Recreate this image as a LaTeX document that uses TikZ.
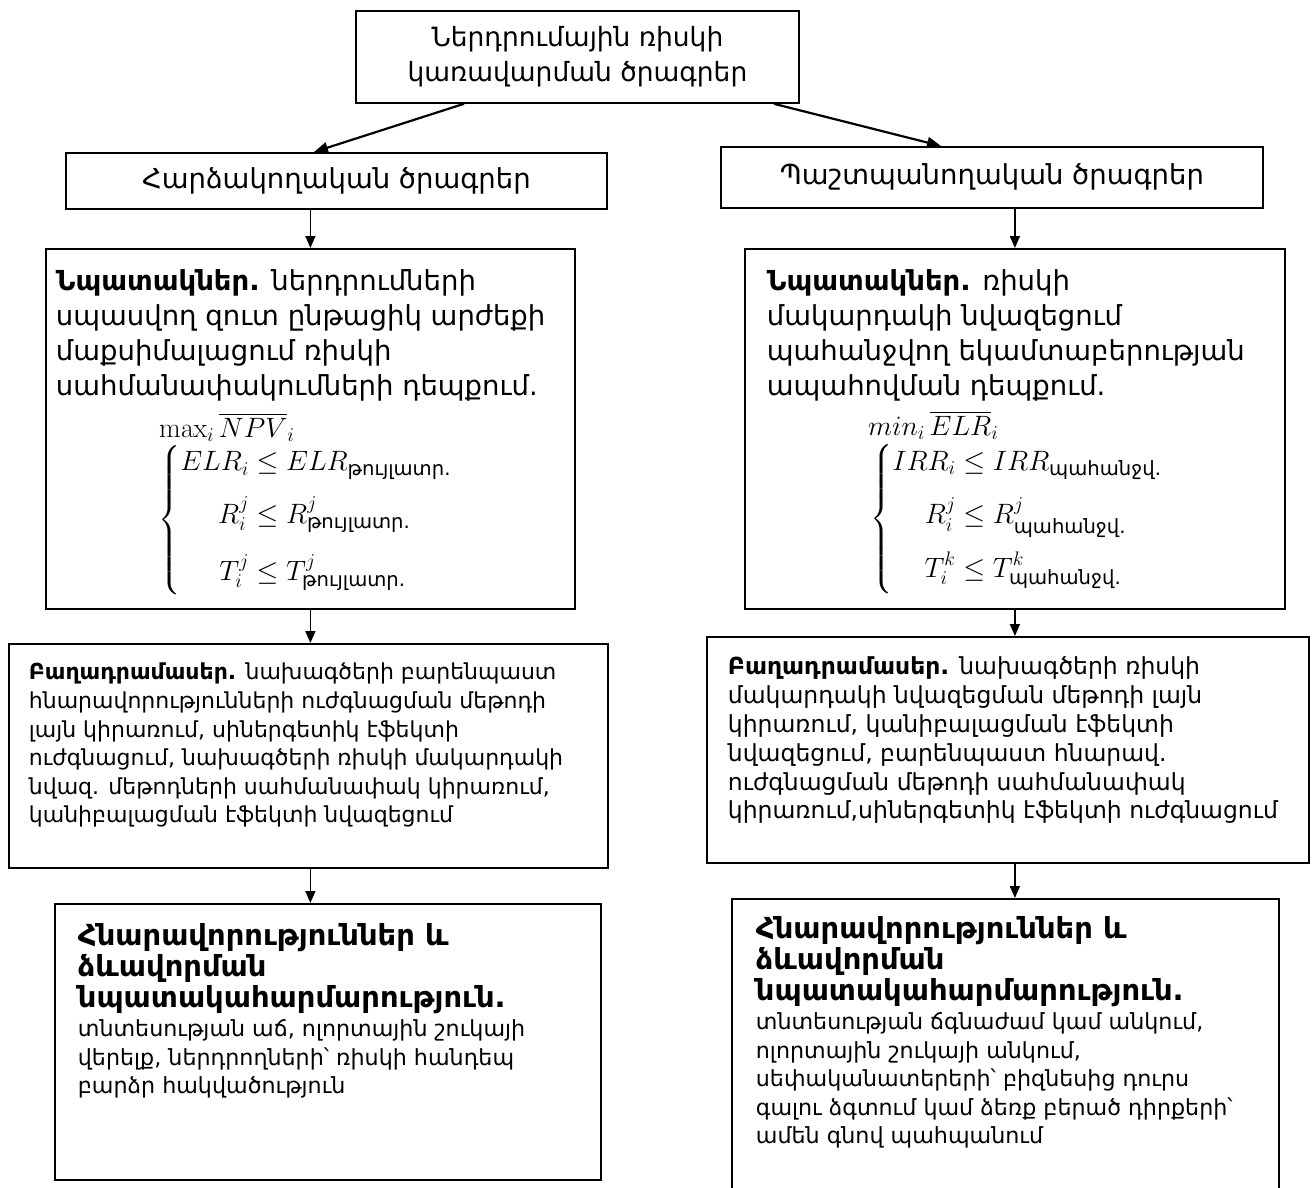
\RequirePackage{fix-cm}
\documentclass[tikz,border=0pt]{standalone}
\usepackage{amsmath}
\usepackage[no-math]{fontspec}
\setmainfont{DejaVu Sans}
\usetikzlibrary{arrows.meta,calc}

% body of a box: width, height, first baseline, text
\newcommand{\boxbody}[4]{\parbox[c][#2][t]{#1}{\raggedright\rule{0pt}{#3}#4}}
\newcommand{\headtxt}{\fontsize{29}{31}\selectfont\bfseries}

\begin{document}
\begin{tikzpicture}[x=1pt,y=-1pt,>={Triangle[length=12pt,width=10pt]},
  blk/.style={draw,line width=1.8pt,anchor=north west,inner ysep=0pt,align=left},
  ttl/.style={draw,line width=1.8pt,anchor=north west,align=center,inner sep=0pt},
  arr/.style={->,line width=1.5pt},
  diag/.style={->,line width=2.2pt,>={Triangle[length=14pt,width=11pt]}},
  bigtxt/.style={font=\fontsize{27.5}{35}\selectfont},
  smalltxt/.style={font=\fontsize{22.2}{28.6}\selectfont},
  frm/.style={font=\fontsize{28}{30}\selectfont,inner sep=0pt}]
  \useasboundingbox (0,0) rectangle (1312,1188);

  % titles
  \node[ttl,font=\fontsize{26.5}{35}\selectfont,minimum width=443pt,minimum height=92pt] (top) at (355,10)
    {Ներդրումային ռիսկի\\կառավարման ծրագրեր};
  \node[ttl,bigtxt,minimum width=541pt,minimum height=56pt] (l2) at (65,152)
    {Հարձակողական ծրագրեր};
  \node[ttl,bigtxt,minimum width=542pt,minimum height=61pt] (r2) at (720,146)
    {Պաշտպանողական ծրագրեր};

  % goals
  \node[blk,bigtxt,inner xsep=10pt] (l3) at (45,248) {\boxbody{509pt}{360pt}{42pt}{%
    \textbf{Նպատակներ.} ներդրումների\\սպասվող զուտ ընթացիկ արժեքի\\մաքսիմալացում ռիսկի\\սահմանափակումների դեպքում.}};
  \node[blk,bigtxt,inner xsep=22pt] (r3) at (744,248) {\boxbody{496pt}{360pt}{42pt}{%
    \textbf{Նպատակներ.} ռիսկի\\մակարդակի նվազեցում\\պահանջվող եկամտաբերության\\ապահովման դեպքում.}};

  \node[frm,anchor=base west] (lmax) at (159,437) {$\max_i \overline{NPV}_i$};
  \node[frm,anchor=west] (lsys) at (158,520) {$\left\{\begin{aligned}
    ELR_i &\le ELR_{\text{թույլատր.}}\\[13pt]
    R_i^j &\le R^j_{\text{թույլատր.}}\\[18pt]
    T_i^j &\le T^j_{\text{թույլատր.}}\end{aligned}\right.$};
  \node[frm,anchor=base west] (rmin) at (868,435) {$min_i\,\overline{ELR}_i$};
  \node[frm,anchor=west] (rsys) at (870,519) {$\left\{\begin{aligned}
    IRR_i &\le IRR_{\text{պահանջվ.}}\\[14pt]
    R_i^j &\le R^j_{\text{պահանջվ.}}\\[11pt]
    T_i^k &\le T^k_{\text{պահանջվ.}}\end{aligned}\right.$};

  % components
  \node[blk,font=\fontsize{22}{28.6}\selectfont,inner xsep=20pt] (l4) at (8,643) {\boxbody{559pt}{224pt}{36pt}{%
    \textbf{Բաղադրամասեր.} նախագծերի բարենպաստ\\հնարավորությունների ուժգնացման մեթոդի\\լայն կիրառում, սիներգետիկ էֆեկտի\\ուժգնացում, նախագծերի ռիսկի մակարդակի\\նվազ. մեթոդների սահմանափակ կիրառում,\\կանիբալացման էֆեկտի նվազեցում}};
  \node[blk,font=\fontsize{23.5}{28.8}\selectfont,inner xsep=21pt] (r4) at (706,636) {\boxbody{560pt}{226pt}{38pt}{%
    \textbf{Բաղադրամասեր.} նախագծերի ռիսկի\\մակարդակի նվազեցման մեթոդի լայն\\կիրառում, կանիբալացման էֆեկտի\\նվազեցում,  բարենպաստ հնարավ.\\ուժգնացման մեթոդի սահմանափակ\\կիրառում,սիներգետիկ էֆեկտի ուժգնացում}};

  % possibilities
  \node[blk,smalltxt,inner xsep=23pt] (l5) at (54,903) {\boxbody{500pt}{276pt}{42pt}{%
    {\headtxt Հնարավորություններ և\\ձևավորման\\նպատակահարմարություն.\par}
    տնտեսության աճ, ոլորտային շուկայի\\վերելք, ներդրողների՝ ռիսկի հանդեպ\\բարձր հակվածություն}};
  \node[blk,smalltxt,inner xsep=24pt] (r5) at (731,898) {\boxbody{499pt}{300pt}{40pt}{%
    {\headtxt Հնարավորություններ և\\ձևավորման\\նպատակահարմարություն.\par}
    տնտեսության ճգնաժամ կամ անկում,\\ոլորտային շուկայի անկում,\\սեփականատերերի՝ բիզնեսից դուրս\\գալու ձգտում կամ ձեռք բերած դիրքերի՝\\ամեն գնով պահպանում}};

  % arrows
  \draw[diag] ($(top.south west)+(109,0)$) -- ($(l2.north west)+(249,0)$);
  \draw[diag] ($(top.south west)+(419,0)$) -- ($(r2.north west)+(221,0)$);
  \draw[arr] (l2.south -| l3.north) -- (l3.north);
  \draw[arr] (l3.south) -- (l3.south |- l4.north);
  \draw[arr] (l3.south |- l4.south) -- (l3.south |- l5.north);
  \draw[arr] (r2.south -| r3.north) -- (r3.north);
  \draw[arr] (r3.south) -- (r3.south |- r4.north);
  \draw[arr] (r3.south |- r4.south) -- (r3.south |- r5.north);
\end{tikzpicture}
\end{document}
